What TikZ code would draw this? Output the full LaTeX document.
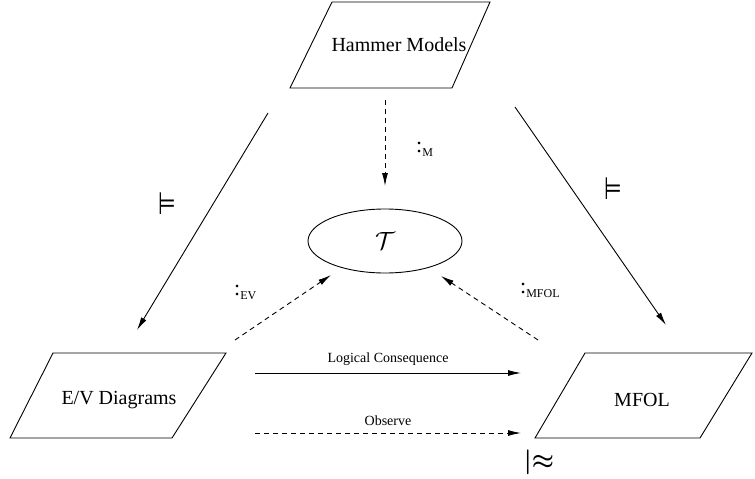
\documentclass[tikz,border=0pt]{standalone}
\usepackage{amsmath}
\usepackage{fontspec}
\setmainfont{Liberation Serif}
\newfontfamily\symfont{DejaVu Sans}
\usetikzlibrary{arrows.meta}
\begin{document}
\begin{tikzpicture}[x=1pt,y=-1pt,
  box/.style={draw=black,line width=0.9pt},
  boxtext/.style={font=\fontsize{20}{24}\selectfont},
  small/.style={font=\fontsize{14}{17}\selectfont},
  sym/.style={font=\symfont\fontsize{31}{34}\selectfont,inner sep=0pt},
  msym/.style={font=\fontsize{27}{30}\selectfont,inner sep=0pt},
  solidarr/.style={draw=black,line width=0.9pt,-{Latex[length=13pt,width=6pt]}},
  dasharr/.style={solidarr,dash pattern=on 5pt off 4pt}]
\useasboundingbox (0,0) rectangle (755,479);
% Hammer Models
\draw[box] (332,2) -- (490,2) -- (452,88) -- (290,88) -- cycle;
\node[boxtext] (hm) at (399,45) {Hammer Models};
% E/V Diagrams
\draw[box] (53,353) -- (226,353) -- (172,438) -- (10,438) -- cycle;
\node[boxtext] (ev) at (119,400) {E/V Diagrams};
% MFOL
\draw[box] (585,353) -- (752,353) -- (700,438) -- (535,438) -- cycle;
\node[boxtext] (mf) at (642,400) {MFOL};
% T ellipse
\draw[box] (385,241) ellipse [x radius=77, y radius=32];
\node[font=\fontsize{24}{28}\selectfont] (t) at (385,241) {$\mathcal{T}$};
% coordinates
\coordinate (m1) at (385,100); \coordinate (m2) at (385,186);
\coordinate (l1) at (268,113); \coordinate (l2) at (137,330);
\coordinate (r1) at (515,107); \coordinate (r2) at (666,325);
\coordinate (e1) at (235,340); \coordinate (e2) at (331,275);
\coordinate (f1) at (538,340); \coordinate (f2) at (441,276);
\coordinate (lc1) at (255,373); \coordinate (lc2) at (521,373);
\coordinate (ob1) at (255,433); \coordinate (ob2) at (521,433);
% arrows
\draw[dasharr] (m1) -- (m2);
\draw[solidarr] (l1) -- (l2);
\draw[solidarr] (r1) -- (r2);
\draw[dasharr] (e1) -- (e2);
\draw[dasharr] (f1) -- (f2);
\draw[solidarr] (lc1) -- node[small,above=4pt] (lclab) {Logical Consequence} (lc2);
\draw[dasharr] (ob1) -- node[small,above=4pt] (oblab) {Observe} (ob2);
% labels
\node[anchor=base west,inner sep=0pt] (lm) at (416,152) {\fontsize{22}{24}\selectfont:\raisebox{-0.4ex}{\fontsize{12}{14}\selectfont M}};
\node[anchor=base west,inner sep=0pt] (lev) at (234,295) {\fontsize{22}{24}\selectfont:\raisebox{-0.4ex}{\fontsize{12}{14}\selectfont EV}};
\node[anchor=base west,inner sep=0pt] (lmf) at (520,293) {\fontsize{22}{24}\selectfont:\raisebox{-0.4ex}{\fontsize{12}{14}\selectfont MFOL}};
\node[sym] (s1) at (167,204) {\scalebox{0.65}[1]{⊨}};
\node[sym] (s2) at (613,189) {\scalebox{0.65}[1]{⊨}};
\node[msym] (s3) at (539,462) {$\boldsymbol{\vert\mkern-5mu\approx}$};
\end{tikzpicture}
\end{document}
